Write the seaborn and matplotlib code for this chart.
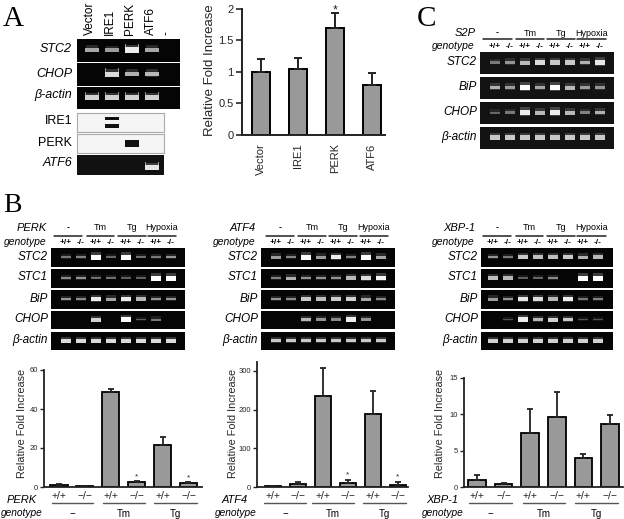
import numpy as np
import pandas as pd
import seaborn as sns
import matplotlib
matplotlib.use('Agg')
import matplotlib.pyplot as plt
from matplotlib.lines import Line2D

sns.set_style('white')
plt.rcParams['font.family'] = ['Liberation Sans', 'DejaVu Sans']

W, H = 624, 519

# panel A
a_lanes = ['Vector', 'IRE1', 'PERK', 'ATF6', '-']
a_stc2 = [.5, .45, .9, .5, 0]
a_chop = [0, .8, .55, .6, 0]
a_actin = [.75, .75, .75, .75, 0]
a_ire1 = [0, 1, 0, 0]
a_perk = [0, 0, 1, 0]
a_atf6 = [0, 0, 0, .85]
a_samples = ['Vector', 'IRE1', 'PERK', 'ATF6']
a_mean = [1, 1.05, 1.7, .8]
a_top = [1.2, 1.22, 1.93, .98]

# panel C
c_stc2 = [.25, .4, .6, .8, .7, .7, .55, .85]
c_bip = [.55, .45, 1, .5, 1, .6, .45, .4]
c_chop = [.15, .25, .9, .6, .9, .6, .3, .55]
c_actin = [.7, .7, .7, .7, .7, .7, .7, .7]

# panel B gels
perk_stc2 = [.25, .3, 1, .15, 1, .2, .25, .4]
perk_stc1 = [.35, .4, .2, .2, .1, .1, 1, 1]
perk_bip = [.4, .35, .9, .5, .9, .6, .4, .4]
perk_chop = [0, 0, .75, 0, 1, .1, .25, 0]
perk_actin = [.8, .8, .8, .8, .8, .8, .8, .8]

atf4_stc2 = [.45, .3, 1, .45, .9, .3, 1, .5]
atf4_stc1 = [.3, .55, .4, .4, .4, .6, .8, .95]
atf4_bip = [.4, .35, .7, .65, .7, .75, .5, .35]
atf4_chop = [0, 0, .6, .4, .35, .9, .4, 0]
atf4_actin = [.7, .7, .7, .7, .7, .7, .7, .7]

xbp_stc2 = [.4, .25, .7, .65, .65, .7, .55, .6]
xbp_stc1 = [.65, .6, .1, .15, .35, 0, 1, 1]
xbp_bip = [.45, .4, .85, .8, .6, .9, .25, .3]
xbp_chop = [0, .05, .9, .6, .75, .7, .05, .05]
xbp_actin = [.75, .75, .75, .75, .75, .75, .75, .75]

# panel B bars
geno = ['+/+', '\u2212/\u2212'] * 3
treat = ['\u2212', 'Tm', 'Tg']
perk_mean = [1, .5, 48.5, 2.7, 21.5, 1.8]
perk_top = [1.7, .7, 50.2, 3.2, 25.5, 2.7]
atf4_mean = [2, 8, 236, 11, 188, 6]
atf4_top = [3, 12, 308, 18, 248, 13]
xbp_mean = [1, .45, 7.5, 9.6, 4, 8.7]
xbp_top = [1.6, .55, 10.7, 13.1, 4.5, 9.9]

fig = plt.figure(figsize=(W / 100, H / 100), dpi=100)


def axpx(x0, y0, x1, y1):
    return fig.add_axes([x0 / W, 1 - y1 / H, (x1 - x0) / W, (y1 - y0) / H])


def txt(x, y, s, **kw):
    kw.setdefault('ha', 'center')
    kw.setdefault('va', 'center')
    fig.text(x / W, 1 - y / H, s, color='black', **kw)


def hline(x0, x1, y, lw=1.0, c='#222222'):
    fig.add_artist(Line2D([x0 / W, x1 / W], [1 - y / H, 1 - y / H], color=c, lw=lw))


def gel(x0, y0, x1, y1, first, step, vals, light=False, bg='#050505', band_y=(.48,), fat=1.0):
    ax = axpx(x0, y0, x1, y1)
    ax.set_xlim((x0 - first) / step, (x1 - first) / step)
    ax.set_ylim(0, 1)
    ax.invert_yaxis()
    ax.set_facecolor('#f5f5f5' if light else bg)
    lanes = np.arange(len(vals))
    for by in band_y:
        for lane, v in zip(lanes, vals):
            if v <= 0:
                continue
            col = '#111111' if light else str(round(.3 + .7 * v, 2))
            thick = (.06 + .2 * v) * fat
            # faint smear above, the band, then the raised edges of the well
            if not light:
                ax.bar(lane, thick + .14, width=.62, bottom=by - thick / 2 - .12, color=col, alpha=.22, lw=0)
            ax.bar(lane, thick, width=.7, bottom=by - thick / 2, color=col, lw=0)
            if not light and v > .6:
                ax.bar([lane - .33, lane + .33], .14, width=.05, bottom=by - thick / 2 - .14,
                       color=col, alpha=.65, lw=0)
    ax.set_xticks([])
    ax.set_yticks([])
    for sp in ax.spines.values():
        sp.set_visible(light)
        sp.set_color('#aaaaaa')
        sp.set_linewidth(.8)
    return ax


def header(name, lab_r, gen_r, first, spans, y_top=228, y_line=236, y_gen=242):
    txt(lab_r, y_top, name, ha='right', style='italic', fontsize=8)
    txt(gen_r, y_gen, 'genotype', ha='right', style='italic', fontsize=7.5)
    for (a, b), s in zip(spans, ['-', 'Tm', 'Tg', 'Hypoxia']):
        hline(a, b, y_line, lw=1.1)
        txt((a + b) / 2, y_top, s, fontsize=6.5, fontweight='bold' if s == '-' else 'normal')
    for i in range(8):
        txt(first + 15 * i, y_gen + .5, '+/+' if i % 2 == 0 else '-/-', fontsize=6, fontweight='bold')


def bars(x0, x1, y_top, y_zero, ymax, first, step, width, samples, mean, top, ticks, ylab_x, ylab_y,
         font, lw=1.3):
    ax = axpx(x0, y_top, x1, y_zero)
    df = pd.DataFrame({'sample': samples, 'mean': mean})
    sns.barplot(data=df, x='sample', y='mean', color='#999999', saturation=1, width=width,
                edgecolor='black', linewidth=lw, ax=ax)
    pos = np.arange(len(mean))
    up = np.array(top) - np.array(mean)
    ax.errorbar(pos, mean, yerr=[np.zeros(len(mean)), up], fmt='none', ecolor='#222222',
                elinewidth=lw, capsize=width * step * .14, capthick=lw)
    ax.set_xlim((x0 - first) / step, (x1 - first) / step)
    ax.set_ylim(0, ymax)
    ax.set_yticks(ticks)
    ax.set_yticklabels([str(t) for t in ticks])
    ax.set_xlabel('')
    ax.set_ylabel('Relative Fold Increase', fontsize=font)
    ax.yaxis.set_label_coords((ylab_x - x0) / (x1 - x0), (y_zero - ylab_y) / (y_zero - y_top))
    ax.patch.set_alpha(0)
    sns.despine(ax=ax)
    for sp in ['left', 'bottom']:
        ax.spines[sp].set_linewidth(lw)
        ax.spines[sp].set_color('#222222')
    return ax


def lower_labels(ax, name, name_r, gen_r, spans):
    ax.set_xticks(range(6))
    ax.set_xticklabels(geno, fontsize=7.5)
    ax.tick_params(axis='x', length=0, pad=3)
    ax.tick_params(axis='y', labelsize=5.5, length=3, width=1, pad=1.5, left=True)
    txt(name_r, 500, name, ha='right', style='italic', fontsize=8)
    txt(gen_r, 513, 'genotype', ha='right', style='italic', fontsize=7.3)
    for (a, b), s in zip(spans, treat):
        hline(a, b, 503, lw=1.0, c='#555555')
        txt((a + b) / 2, 514, s, fontsize=7)


# ---- panel A
txt(13, 19, 'A', family='Liberation Serif', fontsize=21)
for lane, name in zip([92, 112, 132, 153, 169], a_lanes):
    txt(lane - 2, 35, name, rotation=90, va='bottom', fontsize=8.5)
gel(77, 39, 180, 62, 92, 20, a_stc2)
gel(77, 63, 180, 86, 92, 20, a_chop)
gel(77, 87, 180, 109, 92, 20, a_actin)
gel(77, 113, 164, 132, 92, 20, a_ire1, light=True, band_y=(.3, .68), fat=.7)
gel(77, 134, 164, 153, 92, 20, a_perk, light=True, band_y=(.5,), fat=1.3)
gel(77, 155, 164, 175, 92, 20, a_atf6, band_y=(.62,), bg='#111111')
for y, s, it in [(49, 'STC2', True), (74, 'CHOP', True), (95, '\u03b2-actin', True),
                 (121, 'IRE1', False), (143, 'PERK', False), (163, 'ATF6', True)]:
    txt(72, y, s, ha='right', fontsize=9, style='italic' if it else 'normal')

ax = bars(242, 385, 9, 135, 2, 261, 37, .49, a_samples, a_mean, a_top, [0, .5, 1, 1.5, 2], 216, 70, 9.5, lw=1.4)
ax.set_yticklabels(['0', '0.5', '1', '1.5', '2'])
ax.set_xticks(range(4))
ax.set_xticklabels(a_samples, rotation=90, fontsize=8)
ax.tick_params(axis='x', length=0, pad=6)
ax.tick_params(axis='y', labelsize=8, length=4, width=1.2, pad=2, left=True)
ax.text(2, 1.88, '*', ha='center', va='bottom', fontsize=9)

# ---- panel C
txt(426, 19, 'C', family='Liberation Serif', fontsize=21)
header('S2P', 476, 475, 495, [(483, 512), (516, 544), (547, 575), (577, 606)], y_top=33, y_line=39, y_gen=46)
for y0, y1, vals, s in [(52, 74, c_stc2, 'STC2'), (77, 99, c_bip, 'BiP'),
                        (102, 124, c_chop, 'CHOP'), (127, 149, c_actin, '\u03b2-actin')]:
    gel(480, y0, 614, y1, 495, 15, vals, bg='#131313')
    txt(477, (y0 + y1) / 2 - 1, s, ha='right', style='italic', fontsize=8.5)

# ---- panel B gels
txt(12, 205, 'B', family='Liberation Serif', fontsize=20)
rows = [(248, 267), (269, 288), (290, 309), (311, 329), (332, 350)]
names = ['STC2', 'STC1', 'BiP', 'CHOP', '\u03b2-actin']
panels = [('PERK', 47, 47, 51, 185, 66, [(54, 82), (87, 114), (118, 146), (148, 176)],
           [perk_stc2, perk_stc1, perk_bip, perk_chop, perk_actin]),
          ('ATF4', 256, 256, 261, 395, 276, [(266, 294), (298, 326), (329, 357), (360, 388)],
           [atf4_stc2, atf4_stc1, atf4_bip, atf4_chop, atf4_actin]),
          ('XBP-1', 475, 475, 481, 613, 493, [(483, 511), (516, 543), (547, 575), (577, 606)],
           [xbp_stc2, xbp_stc1, xbp_bip, xbp_chop, xbp_actin])]
for name, lab_r, gen_r, x0, x1, first, spans, gels in panels:
    header(name, lab_r, gen_r, first, spans)
    for (y0, y1), vals, s in zip(rows, gels, names):
        gel(x0, y0, x1, y1, first, 15, vals)
        txt(x0 - 3, (y0 + y1) / 2 - 1, s, ha='right', style='italic', fontsize=8.5)

# ---- panel B bars
ids = ['a', 'b', 'c', 'd', 'e', 'f']
ax = bars(44, 202, 370, 487, 60, 59, 25.9, .66, ids, perk_mean, perk_top, [0, 20, 40, 60], 27, 423, 7.8)
lower_labels(ax, 'PERK', 37, 43, [(52, 93), (103, 145), (154, 197)])
for i in [3, 5]:
    ax.text(i, perk_top[i] + .3, '*', ha='center', va='bottom', fontsize=6)

ax = bars(257, 408, 362, 487, 323, 273, 25, .66, ids, atf4_mean, atf4_top, [0, 100, 200, 300], 238, 423, 7.8)
lower_labels(ax, 'ATF4', 248, 257, [(264, 306), (312, 354), (363, 406)])
for i in [3, 5]:
    ax.text(i, atf4_top[i] + 3, '*', ha='center', va='bottom', fontsize=6)

ax = bars(464, 623, 378, 487, 15, 477, 26.6, .66, ids, xbp_mean, xbp_top, [0, 5, 10, 15], 445, 423, 7.8)
lower_labels(ax, 'XBP-1', 458, 464, [(469, 512), (523, 565), (575, 618)])

fig.savefig('out.png', dpi=100)
